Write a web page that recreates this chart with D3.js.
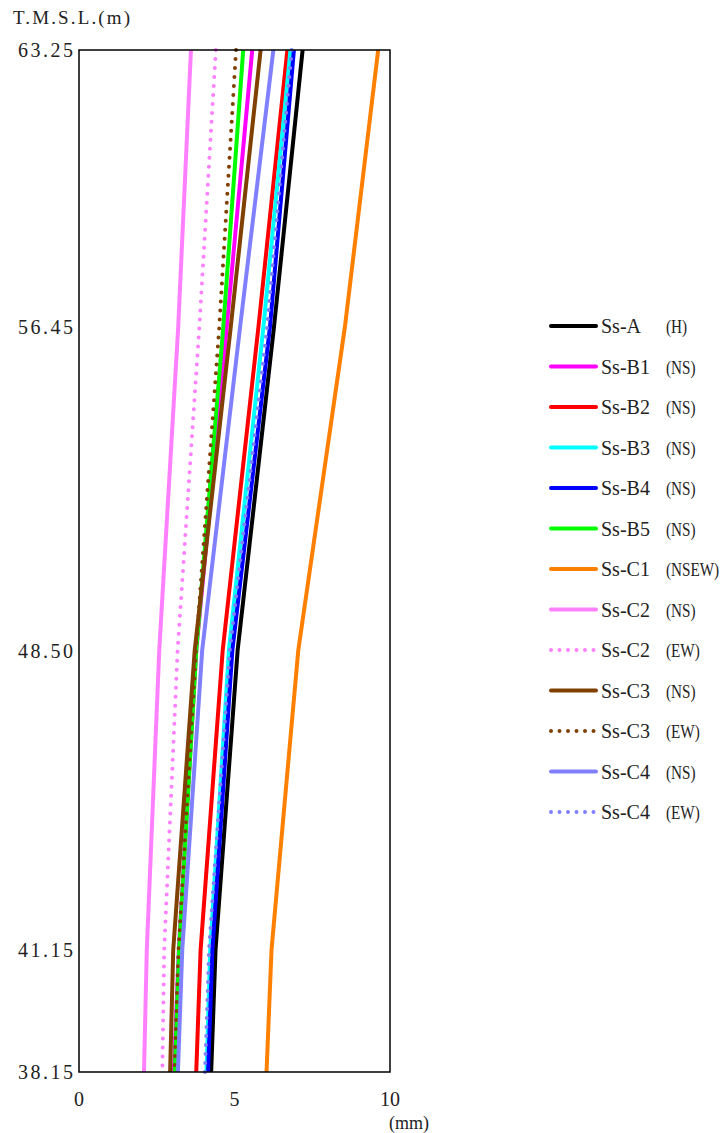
<!DOCTYPE html>
<html><head><meta charset="utf-8">
<script src="https://cdn.jsdelivr.net/npm/d3@7"></script>
<style>body{margin:0;background:#fff}svg{display:block}text{font-family:"Liberation Serif","DejaVu Serif",serif;fill:#222}</style>
</head><body><svg id="c" width="723" height="1133"></svg>
<script>
const levels = [63.25, 56.45, 48.50, 41.15, 38.15];
const yTicks = [63.25, 56.45, 48.50, 41.15, 38.15];
const xTicks = [0, 5, 10];
const names = ["Ss-A","Ss-B1","Ss-B2","Ss-B3","Ss-B4","Ss-B5","Ss-C1","Ss-C2","Ss-C2","Ss-C3","Ss-C3","Ss-C4","Ss-C4"];
const dirs = ["(H)","(NS)","(NS)","(NS)","(NS)","(NS)","(NSEW)","(NS)","(EW)","(NS)","(EW)","(NS)","(EW)"];
const colors = ["#000000","#ff00ff","#ff0000","#00ffff","#0000ff","#00ff00","#ff8000","#ff80ff","#ff80ff","#804000","#804000","#8080ff","#8080ff"];
const dotted = [false,false,false,false,false,false,false,false,true,false,true,false,true];
const sA  = [7.19, 6.27, 5.10, 4.39, 4.25];
const sB1 = [5.57, 4.75, 3.77, 3.21, 3.05];
const sB2 = [6.70, 5.77, 4.62, 3.91, 3.77];
const sB3 = [6.80, 5.93, 4.82, 4.22, 4.10];
const sB4 = [6.91, 6.14, 4.93, 4.29, 4.15];
const sB5 = [5.28, 4.64, 3.77, 3.22, 3.08];
const sC1 = [9.62, 8.55, 7.05, 6.19, 6.03];
const sC2NS = [3.60, 3.19, 2.58, 2.18, 2.09];
const sC2EW = [4.40, 3.87, 3.17, 2.74, 2.68];
const sC3NS = [5.84, 4.88, 3.72, 3.03, 2.93];
const sC3EW = [5.05, 4.51, 3.76, 3.20, 3.07];
const sC4NS = [6.25, 5.18, 3.96, 3.32, 3.18];
const sC4EW = [6.84, 6.05, 4.85, 4.18, 4.05];
const series = [sA,sB1,sB2,sB3,sB4,sB5,sC1,sC2NS,sC2EW,sC3NS,sC3EW,sC4NS,sC4EW];

const svg = d3.select("#c");
const x = d3.scaleLinear().domain([0,10]).range([79,390]);
const y = d3.scaleLinear().domain([38.15,63.25]).range([1072,50]);

const line = d3.line().x(d=>x(d[0])).y(d=>y(d[1]));
series.forEach((s,i)=>{
  const pts = s.map((v,j)=>[v,levels[j]]);
  const p = svg.append("path").attr("d",line(pts)).attr("fill","none")
    .attr("stroke",colors[i]).attr("stroke-width",4);
  if(dotted[i]) p.attr("stroke-dasharray","0 9").attr("stroke-linecap","round");
});

// frame
svg.append("rect").attr("x",79).attr("y",50).attr("width",311).attr("height",1022)
  .attr("fill","none").attr("stroke","#000").attr("stroke-width",1.5);

// y tick labels
yTicks.forEach(t=>{
  svg.append("text").attr("x",73).attr("y",y(t)+7).attr("text-anchor","end")
    .attr("font-size",20).attr("textLength",55).attr("lengthAdjust","spacing").text(t.toFixed(2));
});
svg.append("text").attr("x",13).attr("y",24).attr("font-size",19)
  .attr("textLength",117).attr("lengthAdjust","spacing").text("T.M.S.L.(m)");

// x tick labels
xTicks.forEach(t=>{
  svg.append("text").attr("x",x(t)).attr("y",1106).attr("text-anchor","middle")
    .attr("font-size",20).text(t);
});
svg.append("text").attr("x",389).attr("y",1129).attr("font-size",18).text("(mm)");

// legend
names.forEach((n,i)=>{
  const cy = 326 + i*40.5;
  const l = svg.append("line").attr("x1",551).attr("x2",596).attr("y1",cy).attr("y2",cy)
    .attr("stroke",colors[i]).attr("stroke-width",4).attr("stroke-linecap","round");
  if(dotted[i]) l.attr("stroke-dasharray","0 8.5").attr("x2",600);
  svg.append("text").attr("x",601).attr("y",cy+7).attr("font-size",20).text(n);
  svg.append("text").attr("transform",`translate(666,${cy+7}) scale(0.8,1)`)
    .attr("font-size",19).text(dirs[i]);
});
</script></body></html>
